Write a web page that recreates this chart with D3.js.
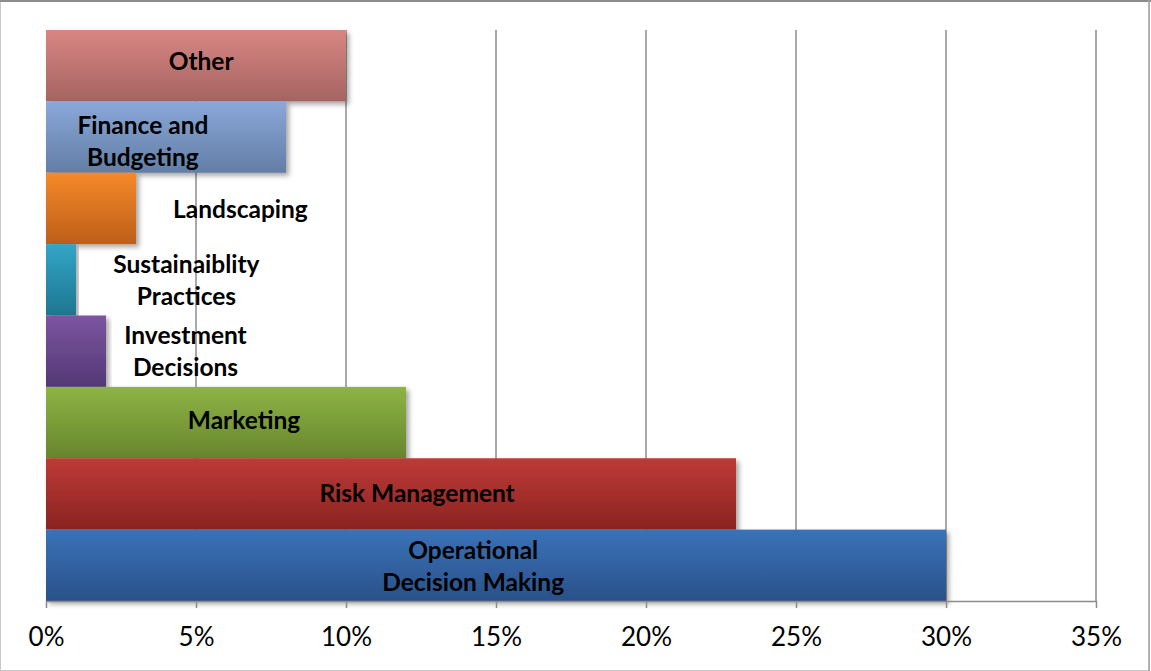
<!DOCTYPE html>
<html>
<head>
<meta charset="utf-8">
<script src="https://cdn.jsdelivr.net/npm/d3@7"></script>
<style>
  html, body { margin: 0; padding: 0; background: #fff; }
  svg { display: block; }
</style>
</head>
<body>
<div id="chart"></div>
<script>
// Share of responses by application area (percent), listed top to bottom
const categories = [
  "Other",
  "Finance and Budgeting",
  "Landscaping",
  "Sustainaiblity Practices",
  "Investment Decisions",
  "Marketing",
  "Risk Management",
  "Operational Decision Making"
];
const values = [10, 8, 3, 1, 2, 12, 23, 30];
// Label text split into lines
const labelLines = [
  ["Other"],
  ["Finance and", "Budgeting"],
  ["Landscaping"],
  ["Sustainaiblity", "Practices"],
  ["Investment", "Decisions"],
  ["Marketing"],
  ["Risk Management"],
  ["Operational", "Decision Making"]
];
// Where each data label is centred along the value axis (percent units)
const labelAt = [5.17, 3.23, 6.48, 4.68, 4.65, 6.6, 12.37, 14.24];
const xTicks = [0, 5, 10, 15, 20, 25, 30, 35];

// Fill gradient stops (top, bottom) per bar
const barColors = [
  ["#d98683", "#a46461"],
  ["#8aa8d9", "#627ea6"],
  ["#f6892a", "#bd5f1a"],
  ["#33a5c6", "#1e7690"],
  ["#7c55a0", "#533875"],
  ["#8eb444", "#67852e"],
  ["#be3a37", "#8a2321"],
  ["#3a72b8", "#2a5189"]
];
// Small vertical nudges of the data labels within their bands (px)
const labelNudge = [-4, 5, 2, 1, 1, -2, 0, 2];

const W = 1151, H = 671;
const margin = { top: 30, right: 55, bottom: 70, left: 46 };

const svg = d3.select("#chart").append("svg")
  .attr("width", W).attr("height", H);

const defs = svg.append("defs");
barColors.forEach((c, i) => {
  const g = defs.append("linearGradient")
    .attr("id", "grad" + i)
    .attr("x1", 0).attr("y1", 0).attr("x2", 0).attr("y2", 1);
  g.append("stop").attr("offset", "0%").attr("stop-color", c[0]);
  g.append("stop").attr("offset", "100%").attr("stop-color", c[1]);
});
const shadow = defs.append("filter").attr("id", "shadow")
  .attr("x", "-5%").attr("y", "-10%").attr("width", "115%").attr("height", "130%");
shadow.append("feDropShadow")
  .attr("dx", 3).attr("dy", 3).attr("stdDeviation", 2.5)
  .attr("flood-color", "#000").attr("flood-opacity", 0.35);

// Chart frame
svg.append("rect")
  .attr("x", 0.5).attr("y", 0.5).attr("width", W - 2).attr("height", H - 1)
  .attr("fill", "none").attr("stroke", "#c8c8c8").attr("stroke-width", 1);
svg.append("line")
  .attr("x1", 0).attr("x2", W).attr("y1", 1).attr("y2", 1)
  .attr("stroke", "#8c8c8c").attr("stroke-width", 2);
svg.append("line")
  .attr("x1", W - 2).attr("x2", W - 2).attr("y1", 0).attr("y2", H)
  .attr("stroke", "#a0a0a0").attr("stroke-width", 1.5);

const x = d3.scaleLinear()
  .domain([0, 35])
  .range([margin.left, W - margin.right]);
const y = d3.scaleBand()
  .domain(categories)
  .range([margin.top, H - margin.bottom])
  .padding(0);

// Vertical gridlines
svg.append("g")
  .selectAll("line")
  .data(xTicks.slice(1))
  .join("line")
  .attr("x1", d => x(d)).attr("x2", d => x(d))
  .attr("y1", margin.top).attr("y2", H - margin.bottom)
  .attr("stroke", "#8c8c8c").attr("stroke-width", 1.5);

// Bars
svg.append("g")
  .selectAll("rect")
  .data(categories)
  .join("rect")
  .attr("x", x(0))
  .attr("y", d => y(d))
  .attr("width", (d, i) => x(values[i]) - x(0))
  .attr("height", y.bandwidth())
  .attr("fill", (d, i) => `url(#grad${i})`)
  .attr("filter", "url(#shadow)");

// Value axis
const axis = d3.axisBottom(x)
  .tickValues(xTicks)
  .tickFormat(d => d + "%")
  .tickSize(7)
  .tickSizeOuter(0);
const gx = svg.append("g")
  .attr("transform", `translate(0,${H - margin.bottom})`)
  .call(axis);
gx.select(".domain").attr("stroke", "#8c8c8c").attr("stroke-width", 1.5);
gx.selectAll(".tick line").attr("stroke", "#8c8c8c").attr("stroke-width", 1.5);
gx.selectAll(".tick text")
  .attr("y", 45)
  .attr("dy", 0)
  .attr("fill", "#000")
  .style("font-family", "Lato, 'Open Sans', sans-serif")
  .style("font-size", "26px");

// Data labels
const lineH = 32;
const labels = svg.append("g")
  .selectAll("text")
  .data(categories)
  .join("text")
  .attr("text-anchor", "middle")
  .attr("fill", "#000")
  .style("font-family", "Lato, 'Open Sans', sans-serif")
  .style("font-weight", "bold")
  .style("font-size", "24.5px")
  .attr("x", (d, i) => x(labelAt[i]))
  .attr("y", (d, i) => y(d) + y.bandwidth() / 2 + labelNudge[i]);
labels.each(function(d, i) {
  const lines = labelLines[i];
  const t = d3.select(this);
  lines.forEach((ln, j) => {
    t.append("tspan")
      .attr("x", x(labelAt[i]))
      .attr("dy", j === 0 ? ((-(lines.length - 1) / 2) * lineH + 8) : lineH)
      .text(ln);
  });
});
</script>
</body>
</html>
